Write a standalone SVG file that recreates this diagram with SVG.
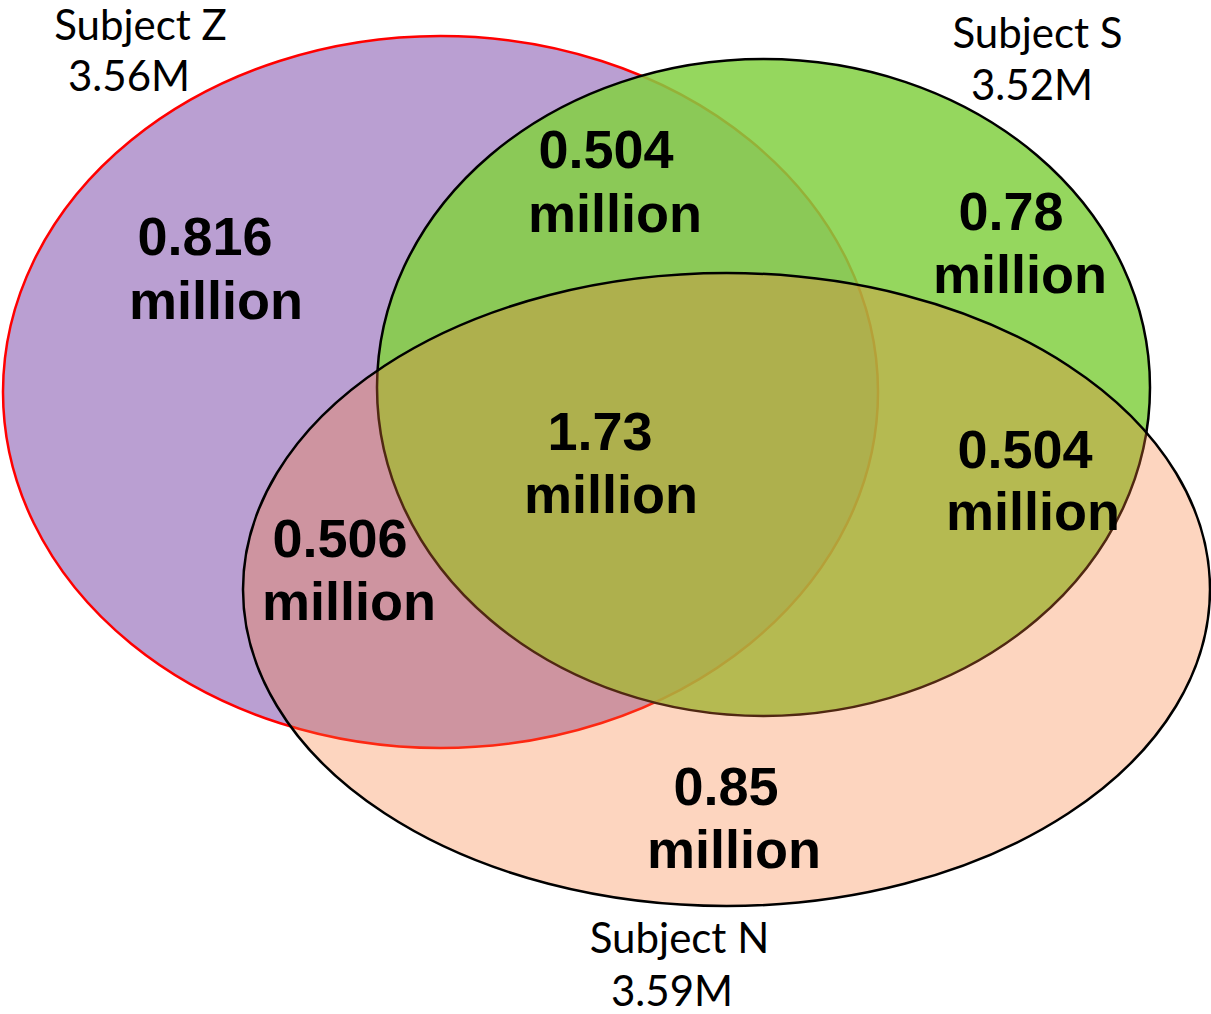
<svg xmlns="http://www.w3.org/2000/svg" width="1211" height="1014" viewBox="0 0 1211 1014">
<style>
.num{font-family:"Liberation Sans",Arial,sans-serif;font-weight:bold;font-size:54px;fill:#000;text-anchor:middle}
.lbl{font-family:Lato,"Open Sans",sans-serif;font-size:42px;fill:#000;text-anchor:middle}
</style>
<rect width="1211" height="1014" fill="#fff"/>
<g id="subjectZ">
<ellipse cx="440.5" cy="392" rx="437.5" ry="356" fill="#BA9FD2" stroke="#FF0000" stroke-width="2.5"/>
</g>
<g id="subjectS">
<ellipse cx="763.5" cy="387.5" rx="386.5" ry="328.5" fill="#82D042" fill-opacity="0.85" stroke="#000" stroke-width="2.5"/>
</g>
<g id="subjectN">
<ellipse cx="726.5" cy="589.5" rx="483.5" ry="316.5" fill="#F97C37" fill-opacity="0.32" stroke="#000" stroke-width="2.5"/>
</g>
<g id="set-labels">
<text class="lbl" x="140.5" y="40">Subject Z</text>
<text class="lbl" x="129" y="91">3.56M</text>
<text class="lbl" x="1037.5" y="48">Subject S</text>
<text class="lbl" x="1032" y="100">3.52M</text>
<text class="lbl" x="679.5" y="953">Subject N</text>
<text class="lbl" x="672" y="1006">3.59M</text>
</g>
<g id="region-labels">
<text class="num" x="205" y="255">0.816</text>
<text class="num" x="216" y="319">million</text>
<text class="num" x="606" y="168">0.504</text>
<text class="num" x="615" y="232">million</text>
<text class="num" x="1011" y="230">0.78</text>
<text class="num" x="1020" y="293">million</text>
<text class="num" x="600" y="450">1.73</text>
<text class="num" x="611" y="513">million</text>
<text class="num" x="1025" y="468">0.504</text>
<text class="num" x="1033" y="530">million</text>
<text class="num" x="340" y="557">0.506</text>
<text class="num" x="349" y="620">million</text>
<text class="num" x="726" y="805">0.85</text>
<text class="num" x="734" y="868">million</text>
</g>
</svg>
